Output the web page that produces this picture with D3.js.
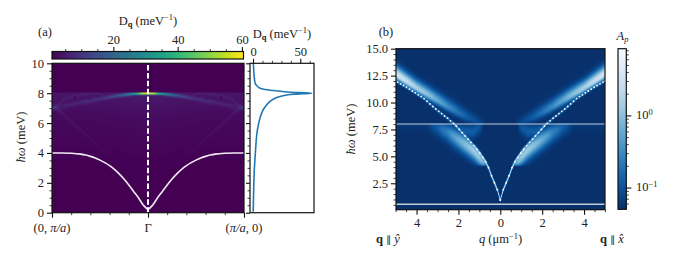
<!DOCTYPE html>
<html><head><meta charset="utf-8">
<script src="https://cdn.jsdelivr.net/npm/d3@7"></script>
<style>html,body{margin:0;padding:0;background:#fff}svg{display:block}
text{font-family:"Liberation Serif",serif;font-size:12.5px;fill:#222}</style></head>
<body><svg id="c" width="675" height="261"></svg>
<script>
// ---------- panel (a) data ----------
const whiteK = [0,0.05,0.1,0.15,0.2,0.25,0.3,0.35,0.4,0.45,0.5,0.55,0.6,0.65,0.7,0.8,0.9,1];
const whiteE = [0.25,0.52,1.0,1.42,1.85,2.25,2.6,2.9,3.15,3.35,3.52,3.66,3.77,3.86,3.92,3.98,4,4];
const arcK = [0,0.06,0.12,0.18,0.3,0.4,0.5,0.74,1];
const arcE = [8,7.995,7.98,7.95,7.85,7.75,7.62,7.33,7.0];
const arcD = [62,55,35,24,13,8,5.5,3.5,3.5];
const arc2K = [0.5,0.6,0.71,0.86,0.97,1];
const arc2E = [8,7.98,7.89,7.67,7.1,7.0];
const arc2D = [1.5,2,2.3,2.3,2.3,3];
const diagK = [0.38,0.5,0.6,0.71,0.8,0.88,0.96,1];
const diagE = [3.9,4.3,4.95,5.6,6.1,6.6,7,7.1];
const diagD = [0.5,1.1,1.5,1.7,1.9,2,2.4,3];
const hazeE = [8,7.9,7.5,7,6.5,6,5,4,3,0];
const hazeD = [4.2,4,3.6,3,2.5,2.1,1.6,1.2,1,0.9];
const speckK = [0.76,0.62,0.53,0.92,0.88];
const speckE = [7.73,7.6,7.82,7.15,7.15];
const sideE = [10,9.6,9.23,8.9,8.67,8.5,8.33,8.25,8.18,8.1,8.04,8,7.96,7.93,7.85,7.71,7.5,7.22,6.8,6.33,5.8,5.2,4.4,3.65,2.8,1.85,1,0.07];
const sideD = [0.3,0.7,1.1,1.6,2.2,4,7.4,12.5,21.5,33,47,62,52,44,33,25,19,14.5,10,7.4,5.4,3.9,2.9,2.1,1.3,0.8,0.5,0.2];
// ---------- panel (b) data ----------
const dotQ = [0,0.14,0.28,0.42,0.56,0.70,0.84,0.98,1.12,1.26,1.40,1.54,1.68,1.82,1.96,2.10,2.24,2.38,2.52,2.66,2.80,2.94,3.08,3.22,3.36,3.50,3.64,3.78,3.92,4.06,4.20,4.34,4.48,4.62,4.76,4.90,5.0];
const dotE = [0.95,1.9,2.55,3.2,3.95,4.5,4.9,5.3,5.65,6.0,6.3,6.6,6.9,7.2,7.5,7.8,8.07,8.3,8.55,8.75,8.97,9.18,9.4,9.63,9.87,10.12,10.37,10.55,10.72,10.9,11.07,11.25,11.42,11.58,11.74,11.9,12.0];
const upQ = [0.7,1,1.5,2,2.5,3,4,5];
const upE = [8.0,8.2,8.55,9.05,9.6,10.2,11.35,12.65];
const upA = [0.055,0.075,0.11,0.18,0.3,0.55,1.5,3.6];
const upW = [0.3,0.35,0.45,0.5,0.5,0.5,0.5,0.55];
const lowQ = [0.6,0.8,1,1.3,1.6,2,2.5,3,3.5];
const lowE = [3.9,4.4,4.95,5.6,6.05,6.6,7.25,7.75,8.1];
const lowA = [0.3,0.7,1.2,1.3,1.0,0.6,0.25,0.12,0.06];
const lowW = [0.3,0.4,0.55,0.6,0.62,0.62,0.6,0.55,0.5];
const lobeQ = [0.85,1,1.3,1.7,2.1];
const lobeE = [8,7.7,7.3,7.3,7.6];
const lobeA = [0.07,0.1,0.12,0.12,0.1];
const flatE = [0.55, 8];
const flatOpacity = [0.75, 0.5];

const svg = d3.select("#c");
function rich(g, x, y, parts, anchor, rot){
  const t = g.append("text").attr("x",x).attr("y",y).attr("text-anchor",anchor||"middle");
  if(rot) t.attr("transform",`rotate(${rot} ${x} ${y})`);
  parts.forEach(p=>{
    const s = t.append("tspan").text(p.t);
    if(p.i) s.style("font-style","italic");
    if(p.b) s.style("font-weight","bold");
    if(p.sup){ s.attr("dy",-4.5).style("font-size","8.5px"); }
    if(p.sub){ s.attr("dy",2.5).style("font-size","8.5px"); }
    if(p.back) s.attr("dy",p.back);
    if(p.sym) s.style("font-family",'"DejaVu Sans"').style("font-size","10px").style("font-weight","normal");
  });
  return t;
}
const dqLabel = [{t:"D"},{t:"q",b:1,sub:1},{t:"  (meV",back:-2.5},{t:"−1",sup:1},{t:")",back:4.5}];
const hwLabel = [{t:"ħω",i:1},{t:"  (meV)"}];
function frame(x0,x1,y0,y1){
  svg.append("rect").attr("x",x0).attr("y",y0).attr("width",x1-x0).attr("height",y1-y0)
    .attr("fill","none").attr("stroke","#111").attr("stroke-width",1.2);
}
function ax(gen,tx,ty,size,noLabels,vals,fmt){
  const a = gen.tickValues(vals).tickSize(size).tickPadding(3);
  a.tickFormat(noLabels?"":fmt);
  const g = svg.append("g").attr("transform",`translate(${tx},${ty})`).call(a);
  g.select(".domain").remove();
  g.selectAll("line").attr("stroke","#111").attr("stroke-width",size>3?1.1:0.8);
  g.selectAll("text").style("font-size","12.5px").style("font-family",'"Liberation Serif",serif').attr("fill","#222");
  return g;
}
function raster(x0,x1,y0,y1,fn){
  const w=Math.round(x1-x0),h=Math.round(y1-y0);
  const c=document.createElement("canvas");c.width=w;c.height=h;
  const ctx=c.getContext("2d");
  for(let j=0;j<h;j++)for(let i=0;i<w;i++){ctx.fillStyle=fn(i+.5,j+.5);ctx.fillRect(i,j,1,1);}
  svg.append("image").attr("x",x0).attr("y",y0).attr("width",x1-x0).attr("height",y1-y0)
    .attr("preserveAspectRatio","none").attr("href",c.toDataURL());
}
const lin=(a,b)=>d3.scaleLinear().domain(a).range(b).clamp(true);

// ---------- panel (a) ----------
const AL=52,AR=244,AT=63.3,AB=212.7;
const xA=d3.scaleLinear().domain([-1,1]).range([AL,AR]);
const yA=d3.scaleLinear().domain([0,10]).range([AB,AT]);
const cA=d3.scaleLinear().domain([0.9,60.5]).range([0,1]).clamp(true);
const arcEs=lin(arcK,arcE),arcDs=lin(arcK,arcD),arc2Es=lin(arc2K,arc2E),arc2Ds=lin(arc2K,arc2D);
const diagEs=lin(diagK,diagE),diagDs=lin(diagK,diagD),hazeS=lin(hazeE,hazeD);
raster(AL,AR,AT,AB,(px,py)=>{
  const k=Math.abs(xA.invert(AL+px)),E=yA.invert(AT+py);
  if(E>8.05) return d3.interpolateViridis(cA(0.9));
  let D=hazeS(E)*(1+0.2*Math.exp(-k*k/0.1));
  const g=(d,w)=>Math.exp(-d*d/(2*w*w));
  D+=arcDs(k)*g(E-arcEs(k),k<0.15?0.06:0.06+0.06*k);
  if(k>=0.5) D+=arc2Ds(k)*g(E-arc2Es(k),0.06);
  if(k>=0.38) D+=diagDs(k)*g(E-diagEs(k),0.08);
  for(let s=0;s<speckK.length;s++) if(Math.abs(k-speckK[s])<0.006&&Math.abs(E-speckE[s])<0.04) D=0.9;
  return d3.interpolateViridis(cA(D));
});
svg.append("path").datum(whiteK.map((k,i)=>[-k,whiteE[i]]).reverse().concat(whiteK.slice(1).map((k,i)=>[k,whiteE[i+1]])))
  .attr("fill","none").attr("stroke","#fff").attr("stroke-opacity",.92).attr("stroke-width",1.6)
  .attr("d",d3.line().x(d=>xA(d[0])).y(d=>yA(d[1])).curve(d3.curveMonotoneX));
svg.append("line").attr("x1",xA(0)).attr("x2",xA(0)).attr("y1",yA(0)).attr("y2",yA(10))
  .attr("stroke","#fff").attr("stroke-width",2).attr("stroke-dasharray","5.5,2.4");
frame(AL,AR,AT,AB);
ax(d3.axisLeft(yA),AL,0,5,false,[0,2,4,6,8,10],d=>d);
ax(d3.axisLeft(yA),AL,0,2.5,true,d3.range(0,10.01,0.5).filter(v=>v%2));
ax(d3.axisBottom(xA),0,AB,5,false,[-1,0,1],(d,i)=>"");
ax(d3.axisBottom(xA),0,AB,2.5,true,[-.8,-.6,-.4,-.2,.2,.4,.6,.8]);
rich(svg,xA(-1),231.5,[{t:"(0, "},{t:"π/a",i:1},{t:")"}]);
rich(svg,xA(0),231.5,[{t:"Γ"}]);
rich(svg,xA(1),231.5,[{t:"("},{t:"π/a",i:1},{t:", 0)"}]);
rich(svg,25,137,hwLabel,"middle",-90);
rich(svg,45,36,[{t:"(a)"}]);

// colourbar (a)
const cbA=d3.scaleLinear().domain([0.9,60.5]).range([52,243.5]);
raster(52,243.5,51.5,59,(px)=>d3.interpolateViridis(px/191.5));
frame(52,243.5,51.5,59);
ax(d3.axisTop(cbA),0,51.5,4.5,false,[20,40,60],d=>d);
ax(d3.axisTop(cbA),0,51.5,2.5,true,[5,10,15,25,30,35,45,50,55]);
rich(svg,148,24.5,dqLabel);

// side panel
const SL=250,SR=314;
const xS=d3.scaleLinear().domain([-3.2,64.5]).range([SL,SR]);
svg.append("path").datum(sideE.map((e,i)=>[sideD[i],e]))
  .attr("fill","none").attr("stroke","#1f77b4").attr("stroke-width",1.6)
  .attr("d",d3.line().x(d=>xS(d[0])).y(d=>yA(d[1])).curve(d3.curveCatmullRom));
frame(SL,SR,AT,AB);
ax(d3.axisLeft(yA),SL,0,4,true,[0,2,4,6,8,10]);
ax(d3.axisLeft(yA),SL,0,2.5,true,d3.range(0,10.01,0.5).filter(v=>v%2));
ax(d3.axisTop(xS),0,AT,4.5,false,[0,50],d=>d);
ax(d3.axisTop(xS),0,AT,2.5,true,[10,20,30,40,60]);
rich(svg,282,37.5,dqLabel);

// ---------- panel (b) ----------
const BL=396,BR=605,BT=48.7,BB=209.7;
const xB=d3.scaleLinear().domain([-5,5]).range([395.6,605]);
const yB=d3.scaleLinear().domain([0,15]).range([210.2,48.7]);
const logN=d3.scaleLog().domain([0.05,8.4]).range([1,0]).clamp(true);
const dotS=lin(dotQ,dotE);
const uE=lin(upQ,upE),uA=lin(upQ,upA),uW=lin(upQ,upW);
const lE=lin(lowQ,lowE),lA=lin(lowQ,lowA),lW=lin(lowQ,lowW);
const oE=lin(lobeQ,lobeE),oA=lin(lobeQ,lobeA);
raster(BL,BR,BT,BB,(px,py)=>{
  const q=Math.abs(xB.invert(BL+px)),E=yB.invert(BT+py);
  const base=Math.log(0.05);
  let best=base;
  const add=(amp,d)=>{ if(amp<=0.05) return; const v=base+(Math.log(amp)-base)*Math.exp(-d*d/2); if(v>best) best=v; };
  const ed=dotS(q);
  if(E>=8&&q>=0.7){
    const c=uE(q), w=uW(q);
    const d=E-c;
    if(E>ed-0.05) add(uA(q), d>0? d/w : d/(w*0.6));
  }
  if(E<8&&q>=0.6){
    const c=lE(q), w=lW(q);
    const d=E-c;
    let a=lA(q);
    if(E<4.4) a=Math.max(0.05,a*Math.max(0,(E-4.05)/0.35));
    if(E<=ed+0.15) add(a, d>0? d/(w*0.85) : d/w);
  }
  if(E<8&&E>ed&&q>=0.85&&q<=2.1){ add(oA(q),(E-oE(q))/0.45); }
  // narrow ridge that follows the dots
  const amp=q<1.2?2.2:q<2.2?0.8:0.2;
  add(amp,(E-ed)/(q<1.2?0.13:0.1));
  return d3.interpolateBlues(logN(Math.exp(best)));
});
flatE.forEach((e,i)=>svg.append("line").attr("x1",BL).attr("x2",BR).attr("y1",yB(e)).attr("y2",yB(e))
  .attr("stroke","#fff").attr("stroke-opacity",flatOpacity[i]).attr("stroke-width",1.4));
[-1,1].forEach(s=>svg.append("g").selectAll("circle").data(dotQ.map((q,i)=>[q*s,dotE[i]])).join("circle")
  .attr("cx",d=>xB(d[0])).attr("cy",d=>yB(d[1])).attr("r",0.9).attr("fill","#fff"));
frame(BL,BR,BT,BB);
ax(d3.axisLeft(yB),BL,0,5,false,[2.5,5,7.5,10,12.5,15],d=>d.toFixed(1));
ax(d3.axisLeft(yB),BL,0,2.5,true,d3.range(0.5,15,0.5).filter(v=>v%2.5));
ax(d3.axisBottom(xB),0,BB,5,false,[-4,-2,0,2,4],d=>Math.abs(d));
ax(d3.axisBottom(xB),0,BB,2.5,true,d3.range(-5,5.01,0.5).filter(v=>v%2));
rich(svg,500.5,243,[{t:"q",i:1},{t:"  (μm"},{t:"−1",sup:1},{t:")",back:4.5}]);
rich(svg,388,243,[{t:"q",b:1},{t:" "},{t:"∥",sym:1},{t:" "},{t:"ŷ",i:1}]);
rich(svg,612,243,[{t:"q",b:1},{t:" "},{t:"∥",sym:1},{t:" "},{t:"x̂",i:1}]);
rich(svg,355,129,hwLabel,"middle",-90);
rich(svg,386,36,[{t:"(b)"}]);

// colourbar (b)
const cbB=d3.scaleLog().domain([0.05,8.4]).range([209.3,48.7]);
raster(618,626.3,48.7,209.3,(px,py)=>d3.interpolateBlues(py/160.6));
frame(618,626.3,48.7,209.3);
const cbMinor=[0.06,0.07,0.08,0.09,0.2,0.3,0.4,0.5,0.6,0.7,0.8,0.9,2,3,4,5,6,7,8];
ax(d3.axisRight(cbB),626.3,0,5,true,[0.1,1]);
ax(d3.axisRight(cbB),626.3,0,2.5,true,cbMinor);
rich(svg,636,191,[{t:"10"},{t:"−1",sup:1}],"start");
rich(svg,636,119,[{t:"10"},{t:"0",sup:1}],"start");
rich(svg,622.5,39.5,[{t:"A",i:1},{t:"p",i:1,sub:1}]);
</script></body></html>
